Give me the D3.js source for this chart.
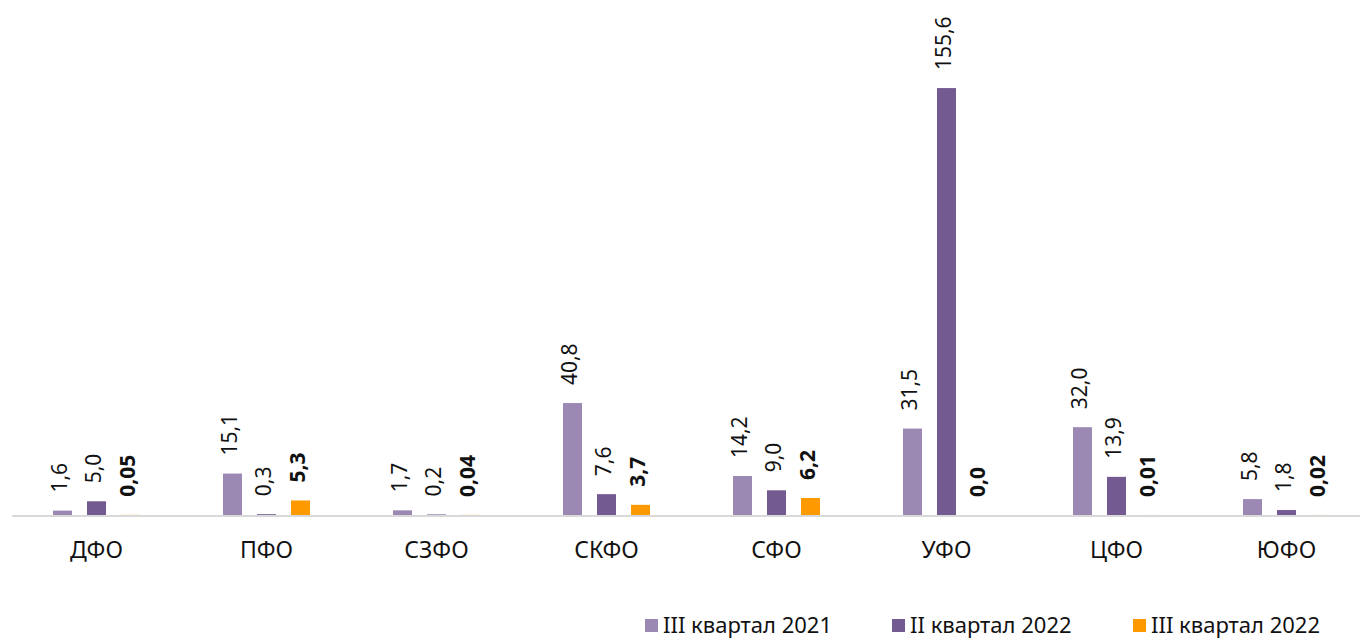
<!DOCTYPE html>
<html>
<head>
<meta charset="utf-8">
<script src="https://cdn.jsdelivr.net/npm/d3@7"></script>
<style>
  body { margin: 0; background: #fff; }
  text { font-family: "Noto Sans", "DejaVu Sans", sans-serif; fill: #111; }
</style>
</head>
<body>
<svg id="chart" width="1360" height="640"></svg>
<script>
const okruga = ["ДФО", "ПФО", "СЗФО", "СКФО", "СФО", "УФО", "ЦФО", "ЮФО"];
const serii = ["III квартал 2021", "II квартал 2022", "III квартал 2022"];
const kv3_2021 = [1.6, 15.1, 1.7, 40.8, 14.2, 31.5, 32.0, 5.8];
const kv2_2022 = [5.0, 0.3, 0.2, 7.6, 9.0, 155.6, 13.9, 1.8];
const kv3_2022 = [0.05, 5.3, 0.04, 3.7, 6.2, 0.0, 0.01, 0.02];
const podpisi3_2022 = ["0,05", "5,3", "0,04", "3,7", "6,2", "0,0", "0,01", "0,02"];
const cveta = ["#9b88b3", "#735a91", "#ff9900"];

const svg = d3.select("#chart");
const baza = 515;

const x0 = d3.scaleBand().domain(okruga).range([11.5, 1371.5]).padding(0);
const x1 = d3.scaleBand().domain([0, 1, 2]).range([34, 136]).paddingInner(0.441).paddingOuter(0.2205);
const y = d3.scaleLinear().domain([0, 160]).range([baza, 76]);

const fmt = v => v.toFixed(1).replace(".", ",");

const dannye = okruga.flatMap((o, i) => [
  { o, s: 0, v: kv3_2021[i], t: fmt(kv3_2021[i]) },
  { o, s: 1, v: kv2_2022[i], t: fmt(kv2_2022[i]) },
  { o, s: 2, v: kv3_2022[i], t: podpisi3_2022[i] }
]);

// столбцы
svg.append("g").selectAll("rect")
  .data(dannye)
  .join("rect")
    .attr("x", d => x0(d.o) + x1(d.s))
    .attr("y", d => y(d.v))
    .attr("width", x1.bandwidth())
    .attr("height", d => baza - y(d.v))
    .attr("fill", d => cveta[d.s]);

// ось
svg.append("line")
  .attr("x1", 12).attr("x2", 1360)
  .attr("y1", baza + 1).attr("y2", baza + 1)
  .attr("stroke", "#d9d9d9").attr("stroke-width", 2);

// подписи значений
svg.append("g").selectAll("text")
  .data(dannye)
  .join("text")
    .attr("transform", d => {
      const cx = x0(d.o) + x1(d.s) + x1.bandwidth() / 2 - 3;
      return `translate(${cx},${y(d.v) - 18}) rotate(-90)`;
    })
    .attr("dy", "0.35em")
    .attr("text-anchor", "start")
    .style("font-size", "21px")
    .style("font-weight", d => d.s === 2 ? "bold" : "normal")
    .text(d => d.t);

// подписи категорий
svg.append("g").selectAll("text")
  .data(okruga)
  .join("text")
    .attr("x", d => x0(d) + x0.bandwidth() / 2)
    .attr("y", 558)
    .attr("text-anchor", "middle")
    .style("font-size", "23px")
    .text(d => d);

// легенда
const legX = [645, 892, 1133];
const leg = svg.append("g").selectAll("g")
  .data(serii)
  .join("g")
    .attr("transform", (d, i) => `translate(${legX[i]},0)`);
leg.append("rect")
  .attr("x", 0).attr("y", 619)
  .attr("width", 13).attr("height", 13)
  .attr("fill", (d, i) => cveta[i]);
leg.append("text")
  .attr("x", 18).attr("y", 633)
  .style("font-size", "22px")
  .text(d => d);
</script>
</body>
</html>
